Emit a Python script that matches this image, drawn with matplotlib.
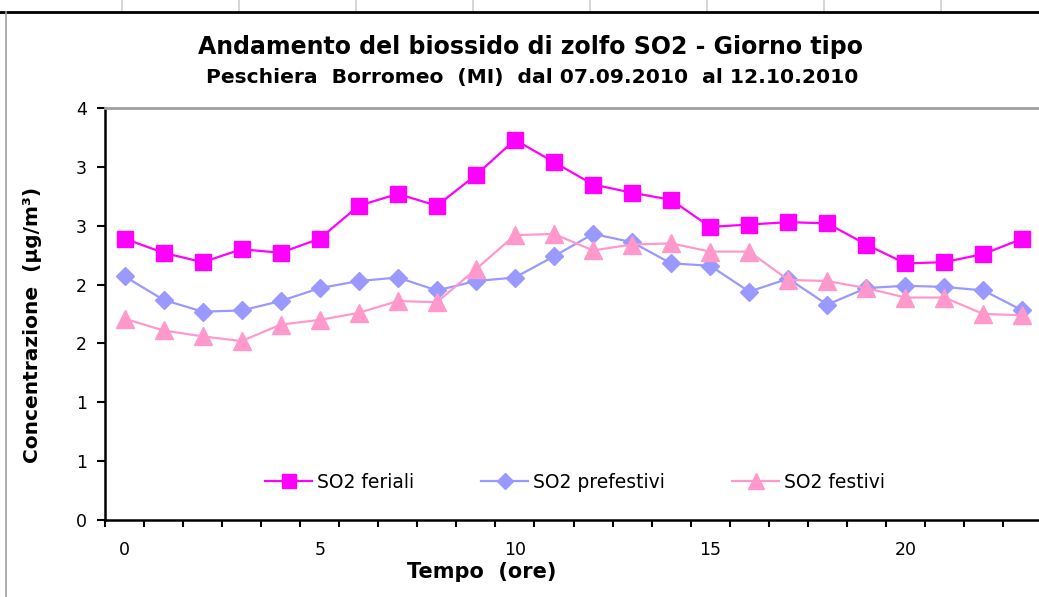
import matplotlib.pyplot as plt
from matplotlib.lines import Line2D
import numpy as np

# ore del giorno e medie orarie SO2 (µg/m³)
ore = list(range(24))
so2_feriali = [2.39, 2.27, 2.19, 2.30, 2.27, 2.39, 2.67, 2.77, 2.67, 2.93, 3.23, 3.04,
               2.85, 2.78, 2.72, 2.49, 2.51, 2.53, 2.52, 2.34, 2.18, 2.19, 2.26, 2.39]
so2_prefestivi = [2.07, 1.87, 1.77, 1.78, 1.86, 1.97, 2.03, 2.06, 1.95, 2.03, 2.06, 2.24,
                  2.43, 2.36, 2.18, 2.16, 1.94, 2.05, 1.83, 1.97, 1.99, 1.98, 1.95, 1.78]
so2_festivi = [1.71, 1.61, 1.56, 1.52, 1.66, 1.70, 1.76, 1.86, 1.85, 2.13, 2.42, 2.43,
               2.29, 2.34, 2.35, 2.28, 2.28, 2.04, 2.03, 1.97, 1.89, 1.89, 1.75, 1.74]

y_ticks = [0, 0.5, 1, 1.5, 2, 2.5, 3, 3.5]
y_tick_labels = ['0', '1', '1', '2', '2', '3', '3', '4']
x_tick_labels = {0: '0', 5: '5', 10: '10', 15: '15', 20: '20'}

c_fer = '#FF00FF'
c_pre = '#9999FF'
c_fes = '#FF99CC'

plt.rcParams['font.family'] = ['DejaVu Sans']

W, H = 1039, 597
fig = plt.figure(figsize=(W / 100, H / 100), dpi=100)

# griglia del foglio di calcolo sopra il grafico
for xg in [122, 239, 356, 473, 590, 707, 824, 941]:
    fig.add_artist(Line2D([xg / W, xg / W], [1, 1 - 12 / H], color='#d0d0d0', lw=1.2))
fig.add_artist(Line2D([0, 1], [1 - 12 / H, 1 - 12 / H], color='black', lw=2))
fig.add_artist(Line2D([6 / W, 6 / W], [0, 1 - 12 / H], color='#a0a0a0', lw=1.2))

ax = fig.add_axes([105 / W, 1 - 520 / H, 937 / W, 412 / H])

ax.plot(ore, so2_feriali, color=c_fer, lw=1.6, marker='s', ms=12, mec=c_fer, label='SO2 feriali')
ax.plot(ore, so2_prefestivi, color=c_pre, lw=1.6, marker='D', ms=9, mec=c_pre, label='SO2 prefestivi')
ax.plot(ore, so2_festivi, color=c_fes, lw=1.6, marker='^', ms=13, mec=c_fes, label='SO2 festivi')

ax.set_xlim(-0.5, 23.5)
ax.set_ylim(0, 3.5)
ax.set_yticks(y_ticks)
ax.set_yticklabels(y_tick_labels, fontsize=12.5)

# asse a categorie: tacche tra le ore, etichette ogni 5 ore
ax.set_xticks(np.arange(-0.5, 24, 1))
ax.set_xticklabels([])
ax.set_xticks(list(x_tick_labels.keys()), minor=True)
ax.set_xticklabels(list(x_tick_labels.values()), minor=True, fontsize=12.5)
ax.tick_params(axis='x', which='minor', length=0, pad=15)
ax.tick_params(axis='x', which='major', length=5, width=1.5, direction='out')
ax.tick_params(axis='y', length=6, width=1.5, direction='out', pad=7)

for s in ['left', 'bottom']:
    ax.spines[s].set_linewidth(1.8)
ax.spines['top'].set_color('#a0a0a0')
ax.spines['top'].set_linewidth(2)
ax.spines['right'].set_visible(False)

ax.set_xlabel('Tempo  (ore)', fontsize=15, fontweight='bold')
ax.xaxis.set_label_coords(482 / W, 1 - 572 / H, transform=fig.transFigure)
ax.xaxis.label.set_va('center')
ax.set_ylabel('Concentrazione  (µg/m³)', fontsize=14.5, fontweight='bold')
ax.yaxis.set_label_coords(33 / W, 1 - 325 / H, transform=fig.transFigure)
ax.yaxis.label.set_va('center')

fig.text(531 / W, 1 - 47 / H, 'Andamento del biossido di zolfo SO2 - Giorno tipo',
         ha='center', va='center', fontsize=17, fontweight='bold')
fig.text(532 / W, 1 - 77 / H, 'Peschiera  Borromeo  (MI)  dal 07.09.2010  al 12.10.2010',
         ha='center', va='center', fontsize=14.6, fontweight='bold')

ax.legend(loc='center', bbox_to_anchor=(575 / W, 1 - 482 / H), bbox_transform=fig.transFigure,
          ncol=3, frameon=False, fontsize=13.5, handlelength=2.5, columnspacing=3.6,
          handletextpad=0.25, markerscale=0.85)

fig.savefig('out.png', dpi=100)
